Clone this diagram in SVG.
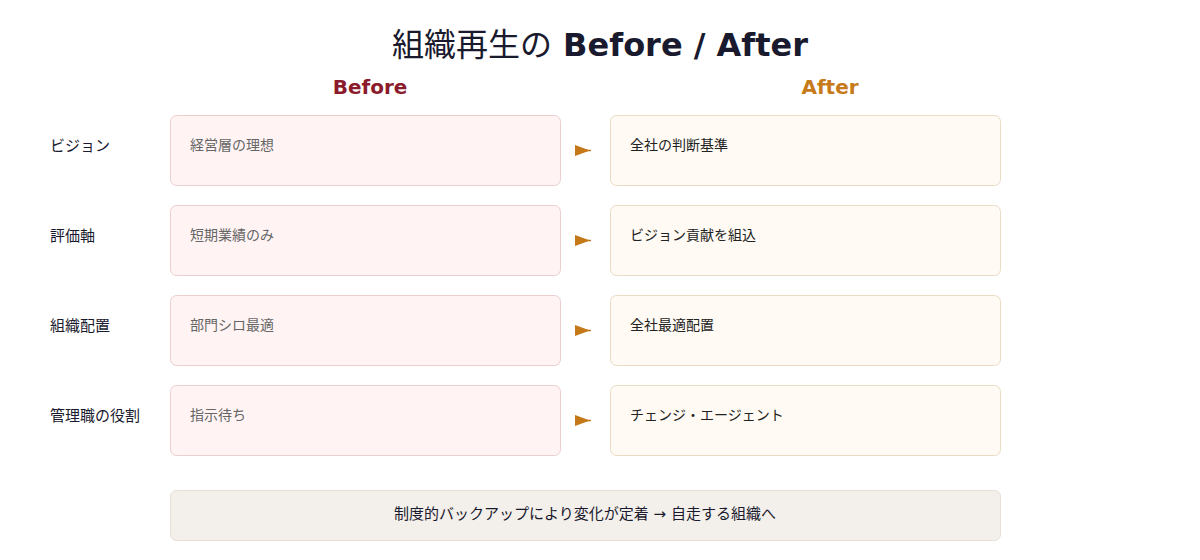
<svg xmlns="http://www.w3.org/2000/svg" width="1200" height="560" viewBox="0 0 1200 560">
<defs>
<style>
text{font-family:"DejaVu Sans","Noto Sans CJK JP",sans-serif;}
.title{font-size:32px;font-weight:bold;fill:#1a1a2e;}
.head{font-size:20px;font-weight:bold;}
.lab{font-size:15px;fill:#1a1a2e;}
.bt{font-size:14px;fill:#666;}
.at{font-size:14px;fill:#222;}
.bb{fill:#fff4f3;stroke:#ebcfcf;stroke-width:1;}
.ab{fill:#fffbf4;stroke:#eadcc4;stroke-width:1;}
.arr{fill:#c47818;}
.arrl{stroke:#c47818;stroke-width:1.5;}
</style>
</defs>
<rect width="1200" height="560" fill="#ffffff"/>
<text class="title" x="600" y="56" text-anchor="middle"><tspan font-weight="normal">組織再生の</tspan> Before / After</text>
<text class="head" x="370" y="94" text-anchor="middle" fill="#8b1a2b">Before</text>
<text class="head" x="830" y="94" text-anchor="middle" fill="#c77a1a">After</text>

<g id="row1">
<text class="lab" x="50" y="151">ビジョン</text>
<g id="before1"><rect class="bb" x="170.5" y="115.5" width="390" height="70" rx="6"/><text class="bt" x="190" y="150">経営層の理想</text></g>
<g id="after1"><rect class="ab" x="610.5" y="115.5" width="390" height="70" rx="6"/><text class="at" x="630" y="150">全社の判断基準</text></g>
</g>
<g id="row2">
<text class="lab" x="50" y="241">評価軸</text>
<g id="before2"><rect class="bb" x="170.5" y="205.5" width="390" height="70" rx="6"/><text class="bt" x="190" y="240">短期業績のみ</text></g>
<g id="after2"><rect class="ab" x="610.5" y="205.5" width="390" height="70" rx="6"/><text class="at" x="630" y="240">ビジョン貢献を組込</text></g>
</g>
<g id="row3">
<text class="lab" x="50" y="331">組織配置</text>
<g id="before3"><rect class="bb" x="170.5" y="295.5" width="390" height="70" rx="6"/><text class="bt" x="190" y="330">部門シロ最適</text></g>
<g id="after3"><rect class="ab" x="610.5" y="295.5" width="390" height="70" rx="6"/><text class="at" x="630" y="330">全社最適配置</text></g>
</g>
<g id="row4">
<text class="lab" x="50" y="421">管理職の役割</text>
<g id="before4"><rect class="bb" x="170.5" y="385.5" width="390" height="70" rx="6"/><text class="bt" x="190" y="420">指示待ち</text></g>
<g id="after4"><rect class="ab" x="610.5" y="385.5" width="390" height="70" rx="6"/><text class="at" x="630" y="420">チェンジ・エージェント</text></g>
</g>

<g id="connectors">
<line class="arrl" x1="575" y1="150.5" x2="591" y2="150.5"/><path class="arr" d="M575,145 L590,150.5 L575,156 Z"/>
<line class="arrl" x1="575" y1="240.5" x2="591" y2="240.5"/><path class="arr" d="M575,235 L590,240.5 L575,246 Z"/>
<line class="arrl" x1="575" y1="330.5" x2="591" y2="330.5"/><path class="arr" d="M575,325 L590,330.5 L575,336 Z"/>
<line class="arrl" x1="575" y1="420.5" x2="591" y2="420.5"/><path class="arr" d="M575,415 L590,420.5 L575,426 Z"/>
</g>

<g id="summary">
<rect x="170.5" y="490.5" width="830" height="50" rx="6" fill="#f3efea" stroke="#e8dfd5" stroke-width="1"/>
<text class="lab" x="585" y="519" text-anchor="middle">制度的バックアップにより変化が定着 → 自走する組織へ</text>
</g>
</svg>
